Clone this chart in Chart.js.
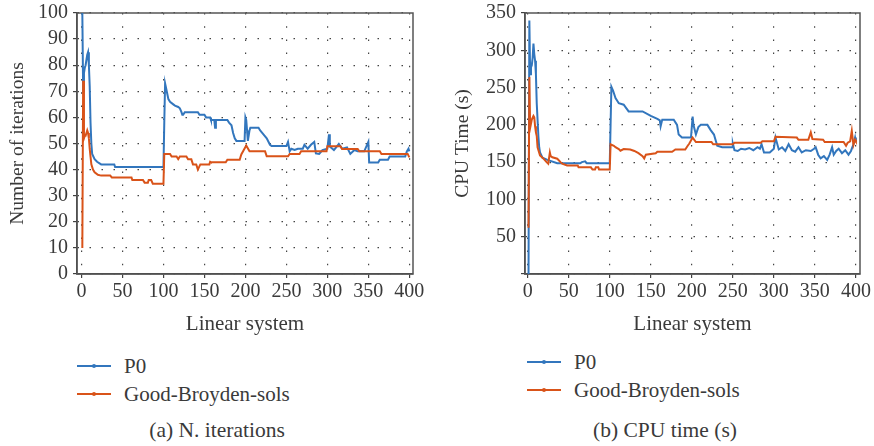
<!DOCTYPE html>
<html>
<head>
<meta charset="utf-8">
<script src="https://cdn.jsdelivr.net/npm/chart.js@4.4.1/dist/chart.umd.min.js"></script>
<style>
    body { margin: 0; background: #fff; width: 874px; height: 446px; position: relative; overflow: hidden;
           font-family: "Liberation Serif", serif; color: #3a3a3a; }
    .box { position: absolute; top: 0; }
    .leg { position: absolute; font-size: 21px; line-height: 28px; }
    .leg div { position: relative; padding-left: 47px; white-space: nowrap; }
    .leg i { position: absolute; left: 0; top: 13px; width: 34px; height: 2px; }
    .leg b { position: absolute; left: 15px; top: 12px; width: 4px; height: 4px; border-radius: 2px; }
    .cap { position: absolute; top: 418px; width: 300px; text-align: center; font-size: 21.5px; }
</style>
</head>
<body>
<div class="box" style="left:0"><canvas id="iterChart" width="430" height="340"></canvas></div>
<div class="box" style="left:445px"><canvas id="cpuChart" width="429" height="340"></canvas></div>
<div class="leg" id="legIter" style="left:77px;top:352px"></div>
<div class="leg" id="legCpu" style="left:527px;top:348px"></div>
<div class="cap" style="left:67px">(a) N. iterations</div>
<div class="cap" style="left:515px">(b) CPU time (s)</div>

<script>
// Nomes das séries e cores
const seriesNames = ['P0', 'Good-Broyden-sols'];
const seriesColors = ['#3276bd', '#d95319'];

// Eixos
const xTicks = [0, 50, 100, 150, 200, 250, 300, 350, 400];
const iterTicks = [0, 10, 20, 30, 40, 50, 60, 70, 80, 90, 100];
const cpuTicks = [0, 50, 100, 150, 200, 250, 300, 350];

// (a) Número de iterações - P0
const iterP0X = [1, 2, 3, 4, 5, 6, 7, 8, 9, 10, 11, 12, 13, 16, 19, 24, 40, 41, 100, 101, 102, 104, 106, 108, 112, 114, 118, 120,
    122, 123, 124, 126, 142, 144, 150, 152, 157, 158, 162, 163, 164, 178, 180, 183, 185, 187, 189, 199, 200, 201, 202, 203,
    205, 206, 216, 218, 222, 226, 230, 232, 250, 252, 254, 256, 260, 264, 270, 272, 276, 280, 284, 286, 290, 294, 300, 302,
    303, 308, 314, 318, 324, 328, 333, 337, 345, 350, 351, 362, 364, 374, 376, 395, 397, 399, 400];
const iterP0Y = [100, 70, 77, 79, 80, 82, 84, 85, 80, 72, 58, 50, 46, 44, 43, 42, 42, 41, 41, 58, 73, 70, 67, 66, 65, 64.5, 64, 63.5,
    62, 61, 61, 62, 62, 61, 61, 60, 60, 59, 59, 56, 59, 59, 58, 57, 54, 52, 51, 51, 60, 59, 55, 51,
    55, 56, 56, 55, 53.5, 52, 49.5, 49, 49, 50.6, 47, 48, 47.5, 48, 48, 49.5, 48, 49.5, 50.6, 46.2, 46, 47.5, 48, 53.5,
    48.8, 47.5, 49.8, 48, 48.5, 46, 47.5, 47, 47, 50.6, 42.7, 42.7, 43.8, 43.8, 45, 45, 47, 48, 47];

// (a) Número de iterações - Good-Broyden-sols
const iterGbX = [1, 2, 3, 4, 5, 6, 7, 8, 9, 10, 11, 12, 14, 16, 20, 24, 35, 37, 61, 62, 75, 77, 81, 82, 85, 87, 100, 101, 108, 110,
    116, 118, 120, 128, 130, 134, 136, 140, 142, 145, 156, 157, 158, 176, 178, 193, 195, 198, 201, 205, 224, 226, 252, 254,
    266, 268, 299, 300, 316, 318, 337, 339, 364, 366, 398, 400];
const iterGbY = [10, 74, 52, 53, 53, 54, 55, 54, 52, 48, 45, 42, 40, 39, 38, 37.7, 37.7, 37, 37, 36, 36, 35, 35, 36, 36, 34.6, 34.6, 46, 46, 45,
    45, 44, 45, 45, 44, 44, 42, 42, 40, 42, 42, 43, 42.8, 42.8, 43.8, 43.8, 45.8, 47.5, 49.2, 47, 47, 45.1, 45.1, 46,
    46, 47, 47, 48.9, 48.9, 47.9, 47.9, 47, 47, 46, 46, 44.7];

// (b) Tempo de CPU - P0
const cpuP0X = [1, 2, 3, 4, 5, 6, 7, 8, 9, 10, 11, 13, 14, 15, 18, 24, 36, 64, 66, 70, 72, 100, 101, 102, 104, 107, 111, 117, 123,
    140, 150, 158, 161, 162, 164, 178, 182, 184, 188, 199, 201, 202, 205, 208, 211, 219, 223, 227, 231, 237, 249, 250, 252,
    256, 260, 265, 270, 275, 280, 283, 285, 288, 295, 300, 302, 306, 310, 314, 318, 322, 326, 330, 334, 339, 345, 349, 351,
    354, 357, 361, 365, 368, 371, 373, 376, 379, 383, 387, 391, 394, 397, 399, 400];
const cpuP0Y = [0, 340, 268, 277, 280, 290, 309, 295, 286, 268, 229, 185, 170, 163, 156, 153, 148.5, 148.5, 150, 151, 148.5, 148.5, 200, 251, 246, 236, 229, 227, 218,
    218, 212, 208, 206, 198, 207, 207, 200, 187, 183, 183, 211, 200, 187, 197, 200, 200, 193, 187, 172, 170, 170, 175, 166,
    165, 168, 167, 169, 166, 170, 168, 174, 163, 163, 168, 183, 167, 170, 165, 174, 166, 164, 170, 163, 166, 165, 168, 170,
    160, 155, 158, 153, 160, 170, 160, 165, 168, 162, 166, 160, 165, 174, 183, 177];

// (b) Tempo de CPU - Good-Broyden-sols
const cpuGbX = [1, 2, 3, 5, 7, 8, 9, 10, 11, 12, 15, 19, 23, 25, 27, 28, 30, 36, 40, 42, 48, 61, 62, 77, 79, 82, 83, 86, 87, 100,
    101, 105, 107, 111, 113, 117, 125, 130, 135, 140, 142, 144, 156, 158, 176, 180, 192, 195, 197, 201, 205, 224, 226, 250,
    252, 284, 286, 300, 302, 328, 330, 342, 345, 347, 360, 362, 385, 388, 390, 393, 395, 397, 399, 400];
const cpuGbY = [62, 264, 196, 207, 212, 210, 198, 190, 185, 170, 159, 155, 150, 148, 163, 158, 156.5, 154.6, 150, 148, 145.5, 145.5, 143, 143, 140, 140, 143, 143, 140, 140,
    174, 172, 170, 167.5, 165.3, 167.5, 167, 165, 162, 158, 155, 160, 162, 164, 164, 167, 167, 172, 175, 183, 177, 177, 174, 174,
    176, 176, 178, 178, 184, 183, 180, 180, 190, 181, 180, 177, 177, 172, 176, 178, 192, 173, 180, 178];

const textColor = '#3a3a3a';
const fontFamily = "'Liberation Serif', serif";
const tickFont = { family: fontFamily, size: 20 };
const xTitleFont = { family: fontFamily, size: 21 };
const yTitleFont = { family: fontFamily, size: 19.5 };

function toPoints(xs, ys) {
    return xs.map((x, i) => ({ x: x, y: ys[i] }));
}

// Moldura completa em volta da área do gráfico
const framePlugin = {
    id: 'frame',
    beforeDatasetsDraw(chart) {
        const a = chart.chartArea;
        const ctx = chart.ctx;
        ctx.save();
        ctx.strokeStyle = '#555';
        ctx.lineWidth = 1.5;
        ctx.strokeRect(a.left, a.top, a.right - a.left, a.bottom - a.top);
        ctx.restore();
    }
};

function criarGrafico(id, cfg) {
    const ctx = document.getElementById(id).getContext('2d');
    return new Chart(ctx, {
        type: 'line',
        data: {
            datasets: [
                { label: seriesNames[0], data: toPoints(cfg.p0x, cfg.p0y), borderColor: seriesColors[0], order: 1 },
                { label: seriesNames[1], data: toPoints(cfg.gbx, cfg.gby), borderColor: seriesColors[1], order: 0 }
            ]
        },
        options: {
            responsive: false,
            animation: false,
            layout: { padding: { top: cfg.padTop, right: cfg.padRight, left: 0, bottom: 0 } },
            elements: {
                line: { borderWidth: 2, tension: 0 },
                point: { radius: 0 }
            },
            plugins: { legend: { display: false }, tooltip: { enabled: false } },
            scales: {
                x: {
                    type: 'linear',
                    min: cfg.xMin,
                    max: cfg.xMax,
                    afterBuildTicks: s => { s.ticks = xTicks.map(v => ({ value: v })); },
                    afterFit: s => { s.height = 66; },
                    grid: { color: '#444', lineWidth: 1.2, tickLength: 4, tickColor: '#404040', tickBorderDash: [], tickWidth: 1.2 },
                    border: { color: '#404040', width: 1.5, dash: [1.5, 11.7] },
                    ticks: { color: textColor, font: Object.assign({ lineHeight: 1.2 }, tickFont), padding: 2, maxRotation: 0 },
                    title: { display: true, text: 'Linear system', color: textColor, font: xTitleFont, padding: { top: 0, bottom: 3 } }
                },
                y: {
                    min: cfg.yMin,
                    max: cfg.yMax,
                    afterBuildTicks: s => { s.ticks = cfg.yTicks.map(v => ({ value: v })); },
                    afterFit: s => { s.width = cfg.yWidth; },
                    grid: { color: '#444', lineWidth: 1.2, tickLength: 4, tickColor: '#404040', tickBorderDash: [], tickWidth: 1.2 },
                    border: { color: '#404040', width: 1.5, dash: [1.5, 10.5] },
                    ticks: {
                        color: textColor,
                        font: Object.assign({ lineHeight: 0.8 }, tickFont),
                        padding: 5,
                        callback: v => (cfg.hideZero && v === 0) ? '' : v
                    },
                    title: { display: true, text: cfg.yTitle, color: textColor, font: yTitleFont, padding: { top: 6, bottom: 0 } }
                }
            }
        },
        plugins: [framePlugin]
    });
}

function criarLegenda(id) {
    const el = document.getElementById(id);
    seriesNames.forEach((nome, i) => {
        const row = document.createElement('div');
        row.innerHTML = `<i style="background:${seriesColors[i]}"></i><b style="background:${seriesColors[i]}"></b>${nome}`;
        el.appendChild(row);
    });
}

document.fonts.load("20px " + fontFamily).then(() => {
    criarGrafico('iterChart', {
        p0x: iterP0X, p0y: iterP0Y, gbx: iterGbX, gby: iterGbY,
        xMin: -5.5, xMax: 404.5, yMin: 0, yMax: 100, yTicks: iterTicks,
        yTitle: 'Number of iterations', yWidth: 77, padTop: 10, padRight: 17, hideZero: false
    });

    criarGrafico('cpuChart', {
        p0x: cpuP0X, p0y: cpuP0Y, gbx: cpuGbX, gby: cpuGbY,
        xMin: -3.3, xMax: 405, yMin: 0, yMax: 350, yTicks: cpuTicks,
        yTitle: 'CPU Time (s)', yWidth: 80, padTop: 8, padRight: 14, hideZero: true
    });
});

criarLegenda('legIter');
criarLegenda('legCpu');
</script>
</body>
</html>
